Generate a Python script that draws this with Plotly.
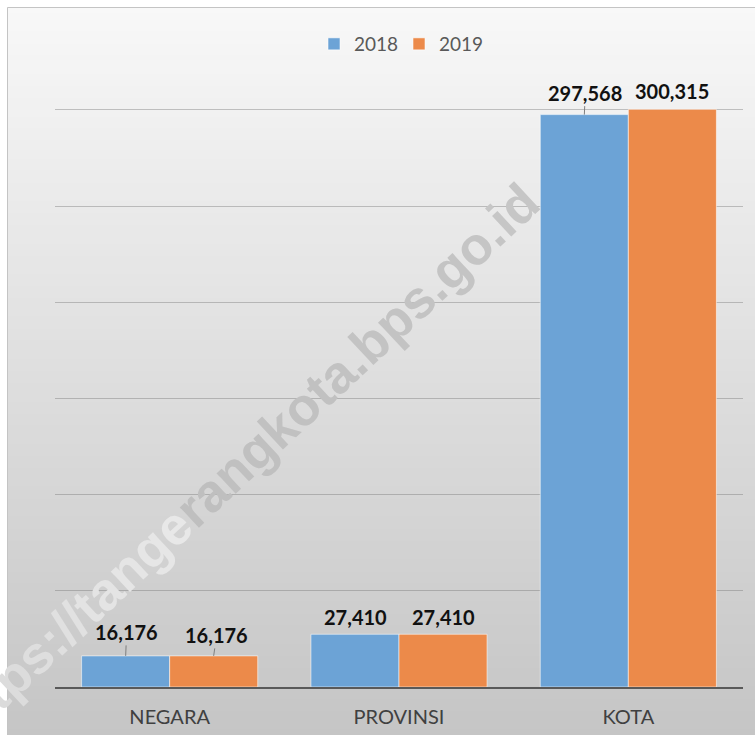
import plotly.graph_objects as go

# ---- data ----
categories = ["NEGARA", "PROVINSI", "KOTA"]
series_names = ["2018", "2019"]
values_2018 = [16176, 27410, 297568]
values_2019 = [16176, 27410, 300315]
watermark = "https://tangerangkota.bps.go.id"

# ---- layout constants ----
W, H = 755, 735
L, R, T, B = 55, 12, 13, 48
PW, PH = W - L - R, H - T - B

def pxx(px):
    return (px - L) / PW

def pxy(py):
    return (H - B - py) / PH

BLUE = "#6CA3D6"
ORANGE = "#EC8A4A"

fig = go.Figure()
for name, vals, col in [(series_names[0], values_2018, BLUE), (series_names[1], values_2019, ORANGE)]:
    fig.add_trace(go.Bar(
        x=categories, y=vals, name=name,
        marker=dict(color=col, line=dict(color="rgba(255,255,255,0.55)", width=1)),
        hoverinfo="skip",
    ))

# background gradient (vertical) as stacked bands
shapes = []
N = 120
top_px, bot_px = 7, H
c_top, c_bot = 248, 197

def bg_at(py):
    f = min(max((py - top_px) / (bot_px - top_px), 0), 1)
    return c_top + (c_bot - c_top) * f

for i in range(N):
    y0 = top_px + (bot_px - top_px) * i / N
    y1 = top_px + (bot_px - top_px) * (i + 1) / N + 1
    c = round(bg_at((y0 + y1 - 1) / 2))
    shapes.append(dict(type="rect", xref="paper", yref="paper", layer="below",
                       x0=pxx(7), x1=pxx(W + 5), y0=pxy(y1), y1=pxy(y0),
                       fillcolor=f"rgb({c},{c},{c})", line=dict(width=0)))
# outer frame border
shapes.append(dict(type="rect", xref="paper", yref="paper", layer="below",
                   x0=pxx(7.5), x1=pxx(W + 10), y0=pxy(H + 10), y1=pxy(7.5),
                   fillcolor="rgba(0,0,0,0)", line=dict(color="#c4c4c4", width=1)))

# data labels
annotations = []
offsets = [-44, 44]
# per-label placement style: (use_leader, ax, ay, yshift)
label_style = {
    (0, 0): (True, 1, -24, 0), (1, 0): (True, 3, -21, 0),
    (0, 1): (False, 0, 0, 17), (1, 1): (False, 0, 0, 17),
    (0, 2): (True, 1, -22, 0), (1, 2): (False, 0, 0, 18),
}
for s, vals in enumerate([values_2018, values_2019]):
    for c, (cat, v) in enumerate(zip(categories, vals)):
        lead, ax, ay, ys = label_style[(s, c)]
        a = dict(x=cat, y=v, xref="x", yref="y", text=f"{v:,}",
                 font=dict(family="Lato", size=20, color="#111111", weight="bold"),
                 xshift=offsets[s])
        if lead:
            a.update(showarrow=True, arrowhead=0, arrowwidth=1, arrowcolor="#7f7f7f",
                     ax=ax, ay=ay, standoff=0, startstandoff=0)
        else:
            a.update(showarrow=False, yanchor="middle", yshift=ys)
        annotations.append(a)

# watermark: per-character tint relative to the local background
# (lighter over the darker lower part, darker over the light upper part)
WM_CX, WM_CY, WM_ANG, WM_SIZE = 241, 464, 43, 53
n = len(watermark)
step = 0.49 * WM_SIZE * 0.682  # approx vertical advance per character
parts = []
for i, ch in enumerate(watermark):
    py = WM_CY + (n / 2 - i) * step
    base = bg_at(py)
    if i <= 12:
        g = base + 20
    else:
        g = base - (22 + 14 * (i - 13) / (n - 14))
    g = int(max(0, min(255, round(g))))
    parts.append(f'<span style="color:rgb({g},{g},{g})">{ch}</span>')
annotations.append(dict(
    text="".join(parts), xref="paper", yref="paper",
    x=pxx(WM_CX), y=pxy(WM_CY), showarrow=False, textangle=-WM_ANG,
    font=dict(family="Liberation Sans", size=WM_SIZE, color="rgb(210,210,210)", weight="bold"),
    xanchor="center", yanchor="middle",
))

fig.update_layout(
    width=W, height=H,
    margin=dict(l=L, r=R, t=T, b=B, pad=0, autoexpand=False),
    paper_bgcolor="white", plot_bgcolor="rgba(0,0,0,0)",
    barmode="group", bargap=0.232, bargroupgap=0,
    shapes=shapes, annotations=annotations,
    showlegend=True,
    legend=dict(orientation="h", x=0.5, xanchor="center", y=pxy(44), yanchor="middle",
                font=dict(family="Lato", size=19, color="#595959"),
                bgcolor="rgba(0,0,0,0)", itemwidth=30, traceorder="normal",
                entrywidth=40),
    font=dict(family="Lato"),
)
fig.update_xaxes(showline=True, linecolor="#595959", linewidth=1.5, ticks="",
                 tickfont=dict(family="Lato", size=20, color="#404040"),
                 ticklabelstandoff=11, showgrid=False, automargin=False)
fig.update_yaxes(range=[0, 350400], dtick=50000, showticklabels=False,
                 showgrid=True, gridcolor="rgba(120,120,120,0.42)", gridwidth=1,
                 zeroline=False, automargin=False)

fig.write_html("out.html", config={"displayModeBar": False},
               post_script="document.body.style.margin='0';document.body.style.overflow='hidden';")
